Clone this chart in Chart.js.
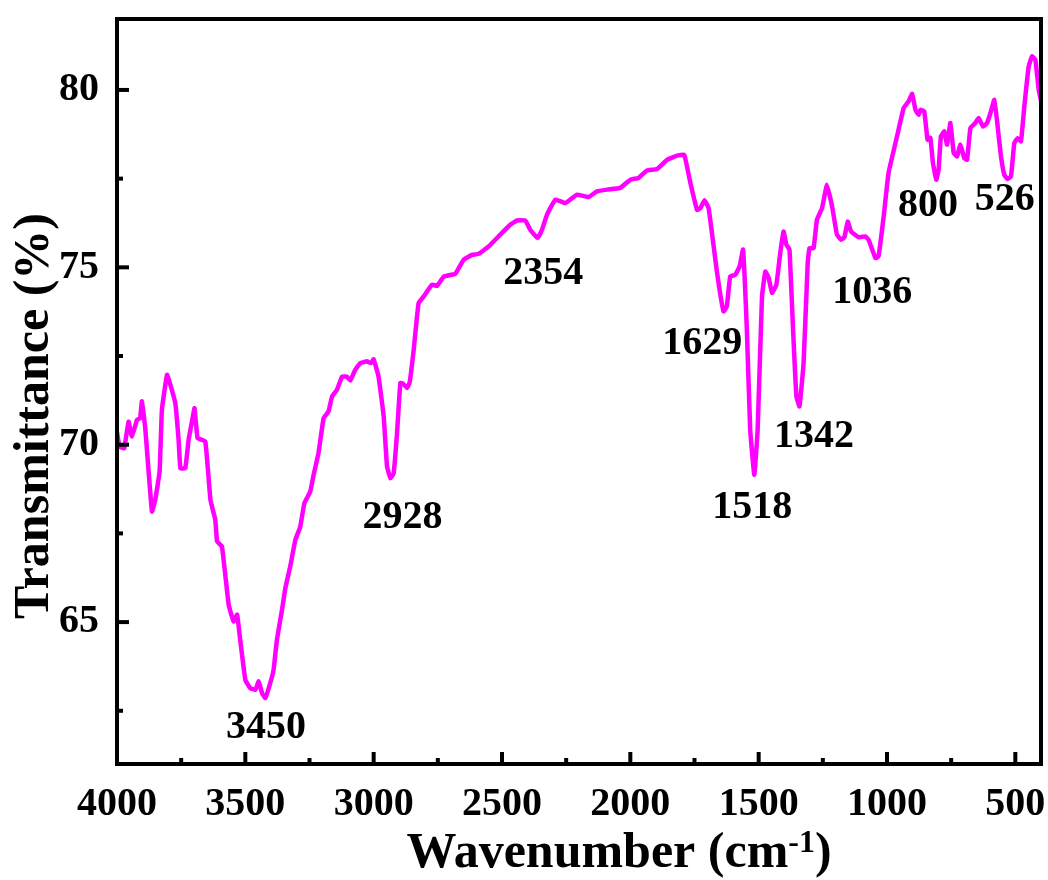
<!DOCTYPE html>
<html>
<head>
<meta charset="utf-8">
<title>FTIR spectrum</title>
<script src="https://cdn.jsdelivr.net/npm/chart.js@4.4.0/dist/chart.umd.min.js"></script>
<style>
  html, body { margin: 0; padding: 0; background: #fff; }
  #wrap { width: 1048px; height: 880px; }
</style>
</head>
<body>
<div id="wrap"><canvas id="ftir" width="1048" height="880"></canvas></div>
<script>
// wavenumber (cm-1), high to low
const wavenumber = [
  4000, 3990, 3972, 3955, 3942, 3922, 3910, 3903, 3890, 3864, 3851, 3834, 3825, 3805, 3792,
  3773, 3760, 3753, 3734, 3721, 3708, 3698, 3686, 3656, 3636, 3617, 3610, 3591, 3565, 3546,
  3532, 3520, 3500, 3481, 3461, 3448, 3435, 3422, 3403, 3390, 3377, 3357, 3344, 3325, 3305,
  3286, 3270, 3247, 3234, 3215, 3195, 3176, 3162, 3143, 3123, 3105, 3091, 3072, 3052, 3026,
  3010, 3000, 2981, 2961, 2948, 2935, 2922, 2909, 2896, 2885, 2870, 2860, 2844, 2825, 2805,
  2773, 2753, 2727, 2682, 2650, 2617, 2591, 2552, 2507, 2468, 2442, 2409, 2390, 2361, 2344,
  2325, 2292, 2253, 2208, 2163, 2130, 2091, 2039, 2000, 1968, 1935, 1896, 1857, 1818, 1790,
  1766, 1740, 1727, 1711, 1695, 1662, 1637, 1624, 1611, 1591, 1574, 1561, 1546, 1533, 1517,
  1504, 1487, 1474, 1461, 1448, 1431, 1416, 1403, 1392, 1380, 1366, 1353, 1341, 1325, 1309,
  1302, 1286, 1273, 1253, 1234, 1214, 1195, 1179, 1166, 1153, 1140, 1111, 1084, 1072, 1045,
  1033, 1013, 994, 961, 935, 916, 902, 889, 877, 870, 855, 842, 831, 821, 808,
  799, 790, 777, 766, 753, 740, 727, 714, 699, 688, 675, 656, 643, 626, 610,
  597, 582, 571, 556, 543, 530, 517, 504, 491, 478, 465, 448, 435, 422, 409,
  400
];
// transmittance (%) at each wavenumber
const transmittance = [
  70.35, 69.95, 69.9, 70.65, 70.23, 70.7, 70.75, 71.22, 70.47, 68.12, 68.45, 69.25, 70.99, 71.97, 71.69,
  71.18, 70.14, 69.34, 69.34, 70.14, 70.65, 71.03, 70.19, 70.09, 68.45, 67.88, 67.27, 67.13, 65.49, 65.02,
  65.21, 64.5, 63.37, 63.14, 63.09, 63.33, 63.0, 62.86, 63.28, 63.65, 64.5, 65.35, 65.96, 66.57, 67.32,
  67.69, 68.35, 68.68, 69.15, 69.76, 70.75, 70.94, 71.36, 71.55, 71.92, 71.92, 71.81, 72.11, 72.3, 72.35,
  72.3, 72.41, 71.92, 70.8, 69.39, 69.06, 69.2, 70.33, 71.74, 71.72, 71.6, 71.75, 72.68, 73.99, 74.18,
  74.51, 74.48, 74.74, 74.82, 75.21, 75.35, 75.38, 75.59, 75.92, 76.2, 76.32, 76.32, 76.06, 75.83, 76.06,
  76.48, 76.91, 76.81, 77.05, 76.98, 77.14, 77.19, 77.24, 77.47, 77.52, 77.73, 77.77, 78.03, 78.15, 78.17,
  77.38, 76.62, 76.67, 76.89, 76.67, 74.84, 73.76, 73.9, 74.74, 74.79, 75.03, 75.5, 73.24, 70.42, 69.15,
  70.42, 74.18, 74.88, 74.7, 74.28, 74.51, 75.4, 76.01, 75.64, 75.5, 73.24, 71.36, 71.08, 72.3, 75.12,
  75.54, 75.54, 76.34, 76.67, 77.33, 76.72, 75.92, 75.78, 75.85, 76.29, 76.01, 75.85, 75.87, 75.78, 75.26,
  75.31, 76.43, 77.66, 78.69, 79.49, 79.68, 79.89, 79.44, 79.3, 79.44, 79.4, 78.6, 78.65, 77.94, 77.47,
  77.75, 78.69, 78.83, 78.46, 79.07, 78.22, 78.13, 78.46, 78.08, 78.03, 78.93, 79.07, 79.21, 78.97, 79.07,
  79.35, 79.72, 79.11, 78.13, 77.61, 77.49, 77.56, 78.5, 78.64, 78.55, 79.54, 80.66, 80.95, 80.85, 80.01,
  79.7
];

// tick values
const xTicks = [4000, 3500, 3000, 2500, 2000, 1500, 1000, 500];
const xMinor = [3750, 3250, 2750, 2250, 1750, 1250, 750];
const yTicks = [65, 70, 75, 80];
const yMinor = [62.5, 67.5, 72.5, 77.5];

// peak labels and where they sit (in data units)
const peakText = ['3450', '2928', '2354', '1629', '1518', '1342', '1036', '800', '526'];
const peakWn = [3419, 2888, 2339, 1720, 1525, 1284, 1057, 840, 541];
const peakT = [62.02, 67.95, 74.82, 72.85, 68.23, 70.23, 74.29, 76.73, 76.9];

const serif = 'Liberation Serif, "Times New Roman", serif';

let points = [];
for (let i = 0; i < wavenumber.length; i++) {
    points.push({ x: wavenumber[i], y: transmittance[i] });
}

function tick(ctx, x1, y1, x2, y2) {
    ctx.beginPath();
    ctx.moveTo(x1, y1);
    ctx.lineTo(x2, y2);
    ctx.stroke();
}

// frame, inward ticks, peak numbers and axis titles
const extras = {
    id: 'extras',
    afterDraw(chart) {
        const ctx = chart.ctx;
        const a = chart.chartArea;
        const xs = chart.scales.x;
        const ys = chart.scales.y;
        ctx.save();
        ctx.strokeStyle = '#000';
        ctx.lineWidth = 4;
        ctx.strokeRect(a.left, a.top, a.right - a.left, a.bottom - a.top);

        xTicks.forEach(v => {
            const px = xs.getPixelForValue(v);
            tick(ctx, px, a.bottom, px, a.bottom - 12);
        });
        xMinor.forEach(v => {
            const px = xs.getPixelForValue(v);
            tick(ctx, px, a.bottom, px, a.bottom - 6);
        });
        yTicks.forEach(v => {
            const py = ys.getPixelForValue(v);
            tick(ctx, a.left, py, a.left + 12, py);
        });
        yMinor.forEach(v => {
            const py = ys.getPixelForValue(v);
            tick(ctx, a.left, py, a.left + 6, py);
        });

        ctx.fillStyle = '#000';
        ctx.font = 'bold 40px ' + serif;
        ctx.textAlign = 'center';
        ctx.textBaseline = 'middle';
        for (let i = 0; i < peakText.length; i++) {
            ctx.fillText(peakText[i], xs.getPixelForValue(peakWn[i]), ys.getPixelForValue(peakT[i]));
        }

        // y title
        ctx.font = 'bold 50px ' + serif;
        ctx.textBaseline = 'alphabetic';
        ctx.save();
        ctx.translate(48, 416);
        ctx.rotate(-Math.PI / 2);
        ctx.fillText('Transmittance (%)', 0, 0);
        ctx.restore();

        // x title with superscript
        const main = 'Wavenumber (cm';
        const sup = '-1';
        const close = ')';
        ctx.font = 'bold 50px ' + serif;
        const w1 = ctx.measureText(main).width;
        const w3 = ctx.measureText(close).width;
        ctx.font = 'bold 32px ' + serif;
        const w2 = ctx.measureText(sup).width;
        let x = 619 - (w1 + w2 + w3) / 2;
        const base = 867;
        ctx.textAlign = 'left';
        ctx.font = 'bold 50px ' + serif;
        ctx.fillText(main, x, base);
        ctx.font = 'bold 32px ' + serif;
        ctx.fillText(sup, x + w1, base - 15);
        ctx.font = 'bold 50px ' + serif;
        ctx.fillText(close, x + w1 + w2, base);
        ctx.restore();
    }
};

let ctx = document.getElementById('ftir').getContext('2d');
let ftirChart = new Chart(ctx, {
    type: 'line',
    data: {
        datasets: [{
            data: points,
            borderColor: '#ff00ff',
            borderWidth: 4.5,
            pointRadius: 0,
            tension: 0.1,
            fill: false,
            borderJoinStyle: 'round',
            borderCapStyle: 'round'
        }]
    },
    options: {
        responsive: false,
        animation: false,
        devicePixelRatio: 1,
        layout: { padding: { top: 19, right: 7, left: 0, bottom: 0 } },
        plugins: {
            legend: { display: false },
            tooltip: { enabled: false }
        },
        scales: {
            x: {
                type: 'linear',
                reverse: true,
                min: 400,
                max: 4000,
                grid: { display: false, drawTicks: false },
                border: { display: false },
                afterBuildTicks: s => { s.ticks = xTicks.map(v => ({ value: v })); },
                afterFit: s => {
                    s.height = 116;
                    s.paddingLeft = 0;
                    s.paddingRight = 0;
                },
                ticks: {
                    padding: 17,
                    maxRotation: 0,
                    autoSkip: false,
                    color: '#000',
                    font: { family: serif, weight: 'bold', size: 40 },
                    callback: v => String(v)
                }
            },
            y: {
                type: 'linear',
                min: 61,
                max: 82,
                grid: { display: false, drawTicks: false },
                border: { display: false },
                afterBuildTicks: s => { s.ticks = yTicks.map(v => ({ value: v })); },
                afterFit: s => {
                    s.width = 117;
                    s.paddingTop = 0;
                    s.paddingBottom = 0;
                },
                ticks: {
                    padding: 18,
                    color: '#000',
                    font: { family: serif, weight: 'bold', size: 40 },
                    callback: v => String(v)
                }
            }
        }
    },
    plugins: [extras]
});
</script>
</body>
</html>
